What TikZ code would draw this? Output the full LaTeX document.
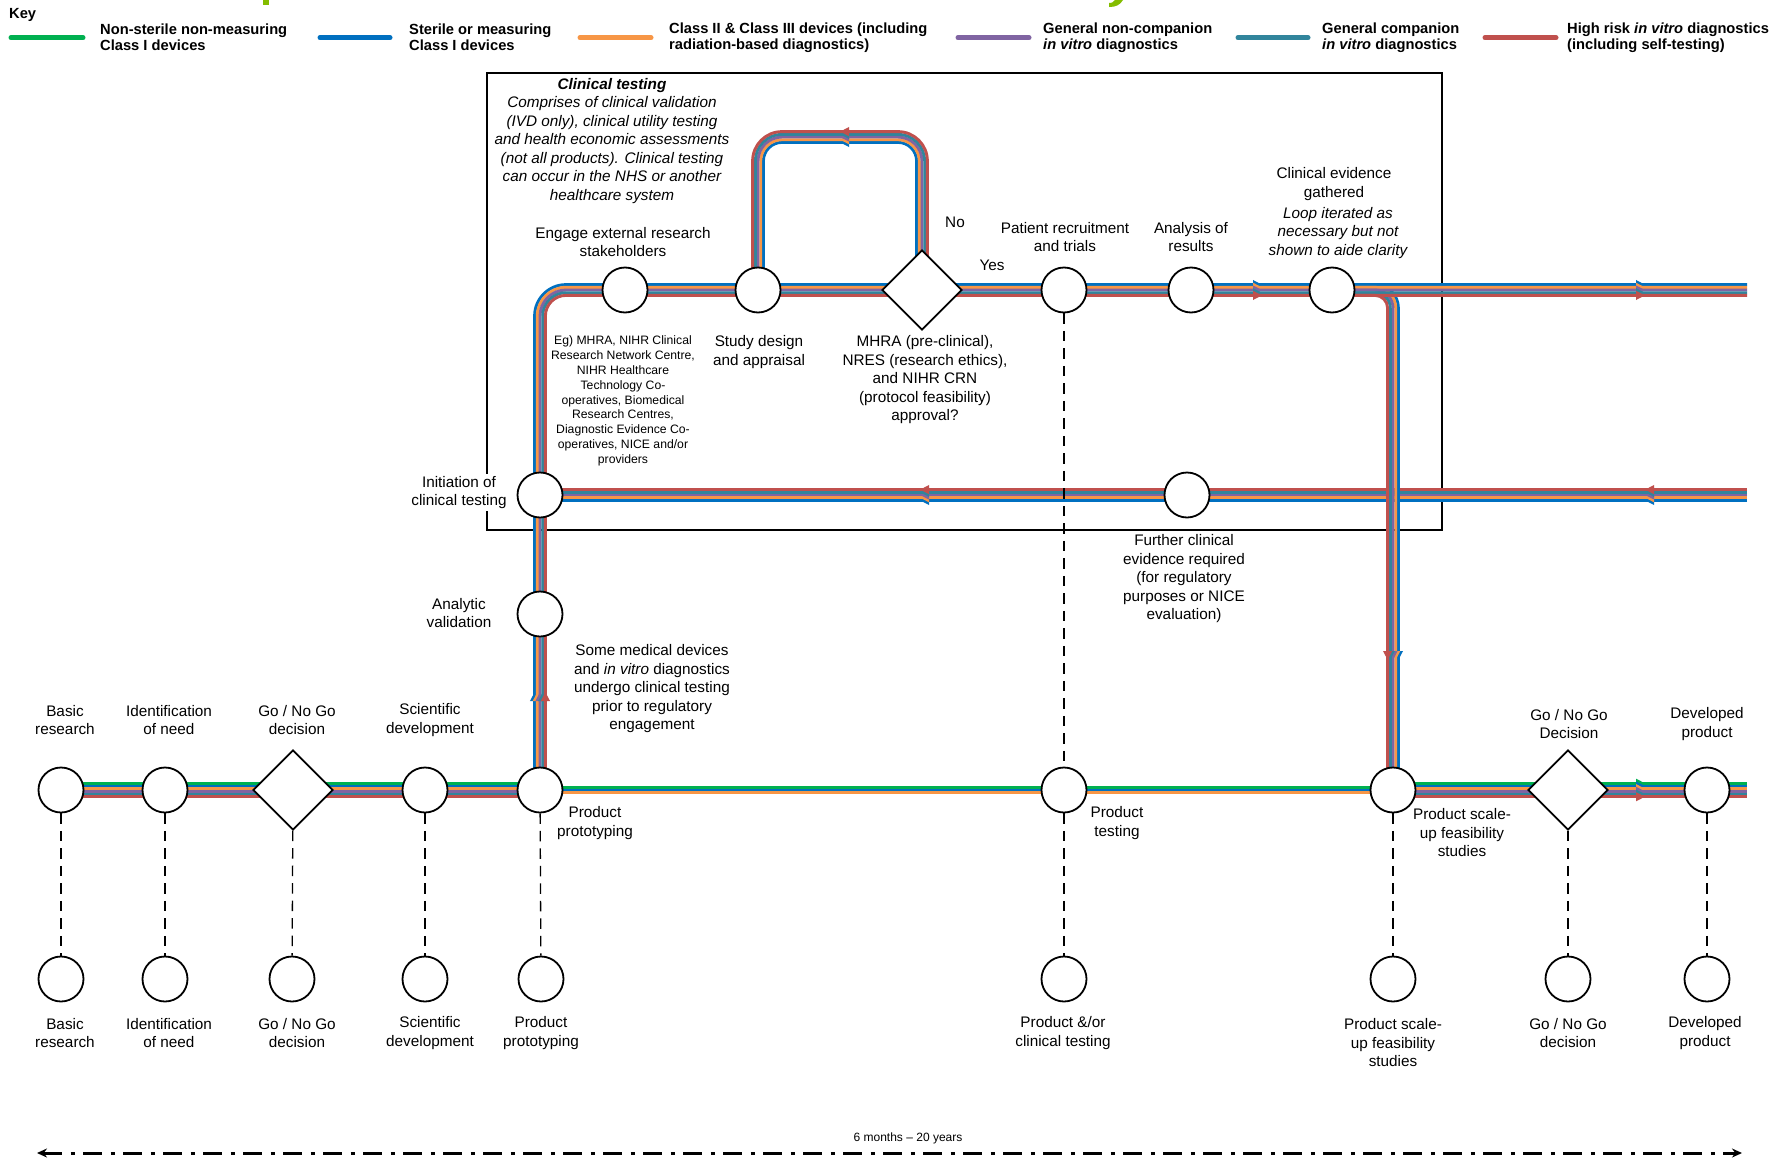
\documentclass[tikz,border=0pt]{standalone}
\usepackage{fontspec}
\setmainfont{Liberation Sans}
\usetikzlibrary{shapes.geometric,arrows.meta,decorations.markings,calc}
\pgfdeclarelayer{lines}
\pgfsetlayers{lines,main}

\definecolor{lgreen}{RGB}{0,176,80}
\definecolor{lblue}{RGB}{0,112,192}
\definecolor{lorange}{RGB}{247,150,70}
\definecolor{lpurple}{RGB}{128,100,162}
\definecolor{lteal}{RGB}{49,133,156}
\definecolor{lred}{RGB}{192,80,77}
\definecolor{titlegreen}{RGB}{132,189,0}

\tikzset{
  stn/.style={circle,draw=black,line width=1.8pt,fill=white,minimum size=45pt,inner sep=0pt},
  gate/.style={diamond,draw=black,line width=1.8pt,fill=white,minimum width=80pt,minimum height=80pt,inner sep=0pt},
  lbl/.style={align=center,inner sep=0pt,font=\fontsize{15.3}{18.5}\selectfont},
  lbli/.style={align=center,inner sep=0pt,font=\fontsize{15.3}{18.5}\selectfont\itshape},
  sml/.style={align=center,inner sep=0pt,font=\fontsize{12.2}{14.8}\selectfont},
  keytxt/.style={align=left,anchor=west,inner sep=0pt,font=\fontsize{14.7}{15.7}\selectfont\bfseries},
  swatch/.style={line width=5pt,line cap=round},
  stripe/.style={line width=2.9pt},
  guide/.style={line width=1.3pt,dash pattern=on 10.5pt off 7pt},
  frame/.style={line width=1.2pt},
  amark/.style={postaction={decorate,decoration={markings,
      mark=at position #1 with {\arrow{Triangle[length=9pt,width=8.5pt]}}}}},
}

\begin{document}
\begin{tikzpicture}[x=1pt,y=-1pt]
\useasboundingbox (0,0) rectangle (1773,1159);

% ---------- stations on the main line ----------
\node[stn]  (br)   at (61,790)   {};
\node[stn]  (idn)  at (165,790)  {};
\node[gate] (gng)  at (293,790)  {};
\node[stn]  (sci)  at (425,790)  {};
\node[stn]  (pp)   at (540,790)  {};
\node[stn]  (pt)   at (1064,790) {};
\node[stn]  (su)   at (1393,790) {};
\node[gate] (gng2) at (1568,790) {};
\node[stn]  (dp)   at (1707,790) {};

% ---------- milestone row ----------
\node[stn] (br2)  at (61,979)   {};
\node[stn] (idn2) at (165,979)  {};
\node[stn] (gng3) at (292,979)  {};
\node[stn] (sci2) at (425,979)  {};
\node[stn] (pp2)  at (541,979)  {};
\node[stn] (pt2)  at (1064,979) {};
\node[stn] (su2)  at (1393,979) {};
\node[stn] (gng4) at (1568,979) {};
\node[stn] (dp2)  at (1707,979) {};

% ---------- clinical testing loop ----------
\node[stn]  (ini)  at (540,495)  {};
\node[stn]  (av)   at (540,614)  {};
\node[stn]  (ees)  at (625,290)  {};
\node[stn]  (sd)   at (758,290)  {};
\node[gate] (appr) at (922,290)  {};
\node[stn]  (prt)  at (1064,290) {};
\node[stn]  (aor)  at (1191,290) {};
\node[stn]  (ceg)  at (1332,290) {};
\node[stn]  (fce)  at (1187,495) {};

\coordinate (eR)  at (1747,290);
\coordinate (rR)  at (1747,495);
\coordinate (bR)  at (1747,790);
\coordinate (lpT) at (0,137);

\begin{pgfonlayer}{lines}
\fill[white] (0,0) rectangle (1773,1159);
% clinical testing frame
\draw[frame] (487,73) rectangle (1442,530);

% title fragments at the top edge
\fill[titlegreen] (263,0) rectangle (269,5);
\fill[titlegreen] (1115,0) -- (1123,0) .. controls (1120,5) and (1116,7) .. (1109,7) -- (1109,3) .. controls (1112,3) .. (1115,0) -- cycle;

% main line: all classes
\foreach \c/\d in {lgreen/2.5,lblue/1.5,lorange/0.5,lpurple/-0.5,lteal/-1.5,lred/-2.5}{
  \pgfmathsetmacro\om{-2.7*\d}
  \draw[stripe,draw=\c] ($(br)+(0,\om)$) -- ($(pp)+(0,\om)$);
  \draw[stripe,draw=\c,amark=252pt] ($(su)+(0,\om)$) -- ($(bR)+(0,\om)$);
}
% main line: devices going straight to product testing
\foreach \c/\d in {lgreen/1,lblue/0,lorange/-1}{
  \pgfmathsetmacro\om{-2.7*\d}
  \draw[stripe,draw=\c] ($(pp)+(0,\om)$) -- ($(su)+(0,\om)$);
}
% further clinical evidence: return line
\foreach \c/\d in {lblue/2,lorange/1,lpurple/0,lteal/-1,lred/-2}{
  \pgfmathsetmacro\o{2.7*\d}
  \draw[stripe,draw=\c,amark=102pt,amark=827pt] ($(rR)+(0,\o)$) -- ($(ini)+(0,\o)$);
}
% clinical testing route
\foreach \c/\d in {lblue/2,lorange/1,lpurple/0,lteal/-1,lred/-2}{
  \pgfmathsetmacro\o{2.7*\d}
  \pgfmathsetmacro\om{-2.7*\d}
  \pgfmathsetmacro\rr{26+2.7*\d}
  \pgfmathsetmacro\rs{18+2.7*\d}
  \pgfmathsetmacro\rl{24-2.7*\d}
  \draw[stripe,draw=\c,amark=98pt,amark=-485pt,amark=-102pt]
    ($(pp)+(\om,0)$) [rounded corners=\rr pt] -- ($(pp |- ees)+(\om,\om)$) -- ($(eR)+(0,\om)$);
  \draw[stripe,draw=\c,amark=-130pt]
    ($(ceg)+(0,\om)$) [rounded corners=\rs pt] -- ($(su |- ceg)+(\o,\om)$) -- ($(su)+(\o,0)$);
  \draw[stripe,draw=\c,amark=0.5]
    ($(appr)+(\om,0)$) [rounded corners=\rl pt] -- ($(appr |- lpT)+(\om,\o)$)
    -- ($(sd |- lpT)+(\o,\o)$) -- ($(sd)+(\o,0)$);
}

% links between the main line and the milestone row
\draw[guide] (br) -- (br2);
\draw[guide] (idn) -- (idn2);
\draw[guide] (gng) -- (gng3);
\draw[guide] (sci) -- (sci2);
\draw[guide] (pp) -- (pp2);
\draw[guide] (prt) -- (pt);
\draw[guide] (pt) -- (pt2);
\draw[guide] (su) -- (su2);
\draw[guide] (gng2) -- (gng4);
\draw[guide] (dp) -- (dp2);
\end{pgfonlayer}

% ---------- key ----------
\node[keytxt] (key) at (9,15) {Key};
\draw[swatch,lgreen]  (11,37.7) -- (83,37.7);
\draw[swatch,lblue]   (320,37.7) -- (390,37.7);
\draw[swatch,lorange] (580,37.7) -- (651,37.7);
\draw[swatch,lpurple] (958,37.7) -- (1029,37.7);
\draw[swatch,lteal]   (1238,37.7) -- (1308,37.7);
\draw[swatch,lred]    (1485,37.7) -- (1556,37.7);
\node[keytxt] (k1) at (100,37.5)  {Non-sterile non-measuring\\Class I devices};
\node[keytxt] (k2) at (409,37.5)  {Sterile or measuring\\Class I devices};
\node[keytxt] (k3) at (669,37.5)  {Class II \& Class III devices (including\\radiation-based diagnostics)};
\node[keytxt] (k4) at (1043,37.5) {General non-companion\\\textit{in vitro} diagnostics};
\node[keytxt] (k5) at (1322,37.5) {General companion\\\textit{in vitro} diagnostics};
\node[keytxt] (k6) at (1567,37.5) {High risk \textit{in vitro} diagnostics\\(including self-testing)};

% ---------- labels: clinical testing ----------
\node[lbli] (tclin) at (612,141) {{\bfseries Clinical testing}\\Comprises of clinical validation\\(IVD only), clinical utility testing\\and health economic assessments\\(not all products). Clinical testing\\can occur in the NHS or another\\healthcare system};
\node[lbl] (tees) at (623,242) {Engage external research\\stakeholders};
\node[lbl] (tno)  at (955,222) {No};
\node[lbl] (tyes) at (992,265) {Yes};
\node[lbl] (tprt) at (1065,237) {Patient recruitment\\and trials};
\node[lbl] (taor) at (1191,237) {Analysis of\\results};
\node[lbl] (tceg) at (1334,184) {Clinical evidence\\gathered};
\node[lbli] (tloop) at (1338,233) {Loop iterated as\\necessary but not\\shown to aide clarity};
\node[sml] (teg) at (623,401) {Eg) MHRA, NIHR Clinical\\Research Network Centre,\\NIHR Healthcare\\Technology Co-\\operatives, Biomedical\\Research Centres,\\Diagnostic Evidence Co-\\operatives, NICE and/or\\providers};
\node[lbl] (tsd)  at (759,352) {Study design\\and appraisal};
\node[lbl] (tappr) at (925,380) {MHRA (pre-clinical),\\NRES (research ethics),\\and NIHR CRN\\(protocol feasibility)\\approval?};
\node[lbl,fill=white,inner sep=2pt] (tini) at (459,492.5) {Initiation of\\clinical testing};
\node[lbl] (tav)  at (459,613) {Analytic\\validation};
\node[lbl] (tfce) at (1184,579) {Further clinical\\evidence required\\(for regulatory\\purposes or NICE\\evaluation)};
\node[lbl] (tsome) at (652,689) {Some medical devices\\and \textit{in vitro} diagnostics\\undergo clinical testing\\prior to regulatory\\engagement};

% ---------- labels: main line ----------
\node[lbl] (tbr)   at (65,720)   {Basic\\research};
\node[lbl] (tidn)  at (169,720)  {Identification\\of need};
\node[lbl] (tgng)  at (297,720)  {Go / No Go\\decision};
\node[lbl] (tsci)  at (430,720)  {Scientific\\development};
\node[lbl] (tgng2) at (1569,724) {Go / No Go\\Decision};
\node[lbl] (tdp)   at (1707,724) {Developed\\product};
\node[lbl] (tpp)   at (595,823)  {Product\\prototyping};
\node[lbl] (tpt)   at (1117,823) {Product\\testing};
\node[lbl] (tsu)   at (1462,833) {Product scale-\\up feasibility\\studies};

% ---------- labels: milestone row ----------
\node[lbl] (tbr2)  at (65,1033)   {Basic\\research};
\node[lbl] (tidn2) at (169,1033)  {Identification\\of need};
\node[lbl] (tgng3) at (297,1033)  {Go / No Go\\decision};
\node[lbl] (tsci2) at (430,1033)  {Scientific\\development};
\node[lbl] (tpp2)  at (541,1033)  {Product\\prototyping};
\node[lbl] (tpt2)  at (1063,1033) {Product \&/or\\clinical testing};
\node[lbl] (tsu2)  at (1393,1043) {Product scale-\\up feasibility\\studies};
\node[lbl] (tgng4) at (1568,1033) {Go / No Go\\decision};
\node[lbl] (tdp2)  at (1705,1033) {Developed\\product};

% ---------- time span ----------
\coordinate (tL) at (37,1153);
\coordinate (tR) at (1742,1153);
\draw[line width=3pt,dash pattern=on 19pt off 8.5pt on 4pt off 8.5pt,
      {Stealth[length=10pt,width=9pt]}-{Stealth[length=10pt,width=9pt]}] (tL) -- (tR);
\node[inner sep=0pt,font=\fontsize{12}{14}\selectfont] (tspan) at (908,1138) {6 months – 20 years};
\end{tikzpicture}
\end{document}
